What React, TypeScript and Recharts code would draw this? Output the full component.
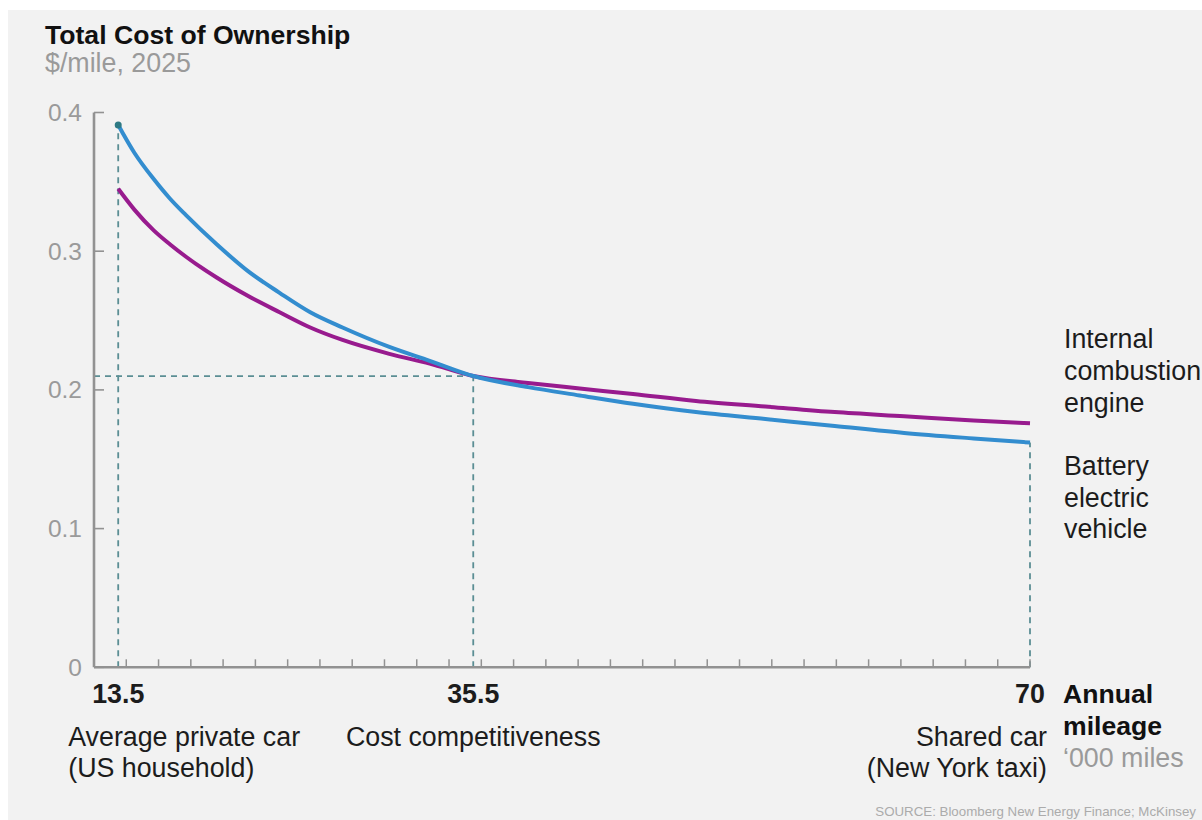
import { LineChart, Line, XAxis, YAxis, ReferenceLine, ReferenceDot, LabelList } from 'recharts'

// Annual mileage ('000 miles) and total cost of ownership ($/mile, 2025)
const mileage = [13.5, 14.5, 15.7, 16.7, 17.7, 19.6, 21.5, 23.5, 25.4, 27.4, 30.3, 32.8, 35.5, 38.9, 42.1, 45.4, 49.3, 53.6, 57.9, 62.2, 66.5, 70]
const bevCost = [0.391, 0.371, 0.352, 0.338, 0.326, 0.305, 0.286, 0.27, 0.256, 0.245, 0.231, 0.221, 0.21, 0.202, 0.196, 0.19, 0.184, 0.179, 0.174, 0.169, 0.165, 0.162]
const iceCost = [0.345, 0.33, 0.315, 0.305, 0.296, 0.281, 0.268, 0.256, 0.245, 0.236, 0.226, 0.219, 0.21, 0.205, 0.201, 0.197, 0.192, 0.188, 0.184, 0.181, 0.178, 0.176]

const costTicks = [0, 0.1, 0.2, 0.3, 0.4]
const minorTicks = [14, 16, 18, 20, 22, 24, 26, 28, 30, 32, 34, 36, 38, 40, 42, 44, 46, 48, 50, 52, 54, 56, 58, 60, 62, 64, 66, 68, 70]

// annotated mileage points along the x axis
const markMileage = [13.5, 35.5, 70]
const markTitle = ['Average private car', 'Cost competitiveness', 'Shared car']
const markSubtitle = ['(US household)', '', '(New York taxi)']
const breakEvenCost = 0.21

const iceLabel = ['Internal', 'combustion', 'engine']
const bevLabel = ['Battery', 'electric', 'vehicle']

const data = mileage.map((m, i) => ({ mileage: m, bev: bevCost[i], ice: iceCost[i] }))
const xTicks = [...minorTicks, ...markMileage.filter((m) => !minorTicks.includes(m))].sort((a, b) => a - b)

const FONT = '"Liberation Sans", Arial, Helvetica, sans-serif'
const TEXT_SIZE = 26.8
const INK = '#1c1c1c'
const GREY = '#9a9a9a'
const AXIS = '#929292'
const GUIDE = '#5b8e94'
const BEV = '#338dcf'
const ICE = '#981b8e'

function CostTick({ x, y, payload }: any) {
  return (
    <g>
      <line x1={x + 12} x2={x + 22} y1={y} y2={y} stroke={AXIS} strokeWidth={1.6} />
      <text x={x} y={y} textAnchor="end" dominantBaseline="central" fontSize={24.5} fontFamily={FONT} fill={GREY}>
        {String(payload.value)}
      </text>
    </g>
  )
}

function MileageTick({ x, y, payload }: any) {
  const v = payload.value
  const i = markMileage.indexOf(v)
  const anchor = i === 0 ? 'start' : i === 2 ? 'end' : 'middle'
  const dx = i === 0 ? -50 : i === 2 ? 17 : 0
  return (
    <g>
      {minorTicks.includes(v) && (
        <line x1={x} x2={x} y1={y} y2={y - 8} stroke={AXIS} strokeWidth={1.5} />
      )}
      {i >= 0 && (
        <g fontFamily={FONT} fontSize={TEXT_SIZE} fill={INK}>
          <text x={x} y={y + 36} textAnchor="middle" fontWeight="bold">
            {String(v)}
          </text>
          <text x={x + dx} y={y + 79} textAnchor={anchor}>
            {markTitle[i]}
          </text>
          {markSubtitle[i] && (
            <text x={x + dx} y={y + 110} textAnchor={anchor}>
              {markSubtitle[i]}
            </text>
          )}
        </g>
      )}
    </g>
  )
}

// series name written next to the last point of each line
function endLabel(lines: string[], firstDy: number) {
  return (props: any) => {
    if (props.index !== data.length - 1) return null
    const x = props.x ?? props.viewBox?.x
    const y = props.y ?? props.viewBox?.y
    return (
      <text x={x + 34} y={y + firstDy} fontFamily={FONT} fontSize={TEXT_SIZE} fill={INK}>
        {lines.map((t, k) => (
          <tspan key={t} x={x + 34} dy={k === 0 ? 0 : 31.7}>
            {t}
          </tspan>
        ))}
      </text>
    )
  }
}

function Txt({ left, right, baseline, size, bold, color, children }: any) {
  return (
    <div
      style={{
        position: 'absolute',
        left,
        right,
        top: baseline - 0.8465 * size,
        fontSize: size,
        lineHeight: `${size}px`,
        fontWeight: bold ? 'bold' : 'normal',
        color,
        fontFamily: FONT,
        whiteSpace: 'nowrap',
      }}
    >
      {children}
    </div>
  )
}

export default function App() {
  return (
    <div
      style={{
        position: 'fixed',
        left: 8,
        top: 10,
        width: 1194,
        height: 810,
        background: '#f2f2f2',
        overflow: 'hidden',
      }}
    >
      <Txt left={37} baseline={34.3} size={26.6} bold color="#111">
        Total Cost of Ownership
      </Txt>
      <Txt left={37} baseline={62.5} size={TEXT_SIZE} color={GREY}>
        $/mile, 2025
      </Txt>

      <LineChart
        width={1194}
        height={810}
        data={data}
        margin={{ top: 102.5, right: 172, bottom: 0, left: 0 }}
      >
        <XAxis
          dataKey="mileage"
          type="number"
          domain={[12, 70]}
          ticks={xTicks}
          interval={0}
          height={152.7}
          tickSize={0}
          tickMargin={0}
          tickLine={false}
          axisLine={{ stroke: AXIS, strokeWidth: 2.6 }}
          tick={<MileageTick />}
        />
        <YAxis
          type="number"
          domain={[0, 0.4]}
          ticks={costTicks}
          interval={0}
          width={86}
          tickSize={0}
          tickMargin={12}
          tickLine={false}
          axisLine={{ stroke: AXIS, strokeWidth: 2.6 }}
          tick={<CostTick />}
        />

        <ReferenceLine
          segment={[{ x: markMileage[0], y: 0 }, { x: markMileage[0], y: bevCost[0] }]}
          stroke={GUIDE}
          strokeWidth={1.8}
          strokeDasharray="6 5"
        />
        <ReferenceLine
          segment={[{ x: 12, y: breakEvenCost }, { x: markMileage[1], y: breakEvenCost }]}
          stroke={GUIDE}
          strokeWidth={1.8}
          strokeDasharray="6 5"
        />
        <ReferenceLine
          segment={[{ x: markMileage[1], y: 0 }, { x: markMileage[1], y: breakEvenCost }]}
          stroke={GUIDE}
          strokeWidth={1.8}
          strokeDasharray="6 5"
        />
        <ReferenceLine
          segment={[{ x: markMileage[2], y: 0 }, { x: markMileage[2], y: bevCost[bevCost.length - 1] }]}
          stroke={GUIDE}
          strokeWidth={1.8}
          strokeDasharray="6 5"
        />

        <Line
          type="monotone"
          dataKey="ice"
          stroke={ICE}
          strokeWidth={4}
          dot={false}
          isAnimationActive={false}
        >
          <LabelList dataKey="ice" content={endLabel(iceLabel, -75)} />
        </Line>
        <Line
          type="monotone"
          dataKey="bev"
          stroke={BEV}
          strokeWidth={4}
          dot={false}
          isAnimationActive={false}
        >
          <LabelList dataKey="bev" content={endLabel(bevLabel, 32.4)} />
        </Line>

        <ReferenceDot x={markMileage[0]} y={bevCost[0]} r={3.5} fill="#2e7a84" stroke="none" />
      </LineChart>

      <Txt left={1055} baseline={694} size={26.6} bold color="#111">
        Annual
      </Txt>
      <Txt left={1055} baseline={725.5} size={26.6} bold color="#111">
        mileage
      </Txt>
      <Txt left={1055} baseline={758} size={TEXT_SIZE} color={GREY}>
        ‘000 miles
      </Txt>
      <Txt right={6} baseline={806} size={13.3} color="#ababab">
        SOURCE: Bloomberg New Energy Finance; McKinsey
      </Txt>
    </div>
  )
}
